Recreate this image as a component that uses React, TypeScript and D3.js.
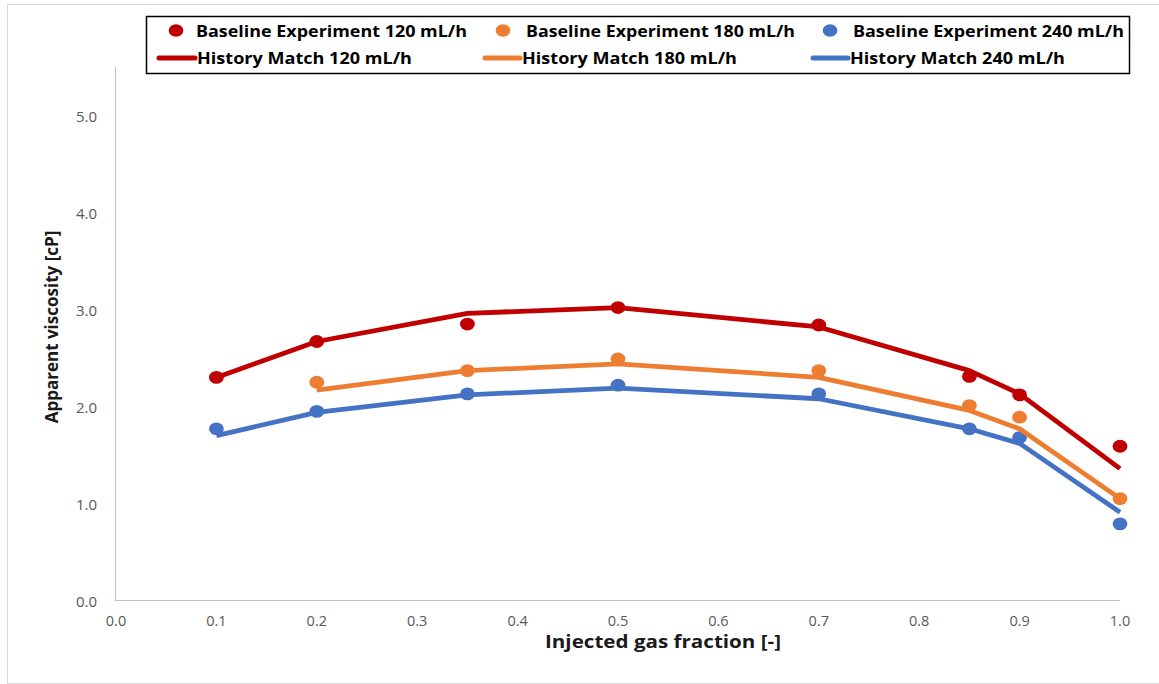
import React from "react";
import * as d3 from "d3";

// Injected gas fraction at each measurement
const gasFraction = [0.1, 0.2, 0.35, 0.5, 0.7, 0.85, 0.9, 1.0];
const gasFraction180 = [0.2, 0.35, 0.5, 0.7, 0.85, 0.9, 1.0];

// Baseline experiment apparent viscosity [cP]
const exp120 = [2.3, 2.67, 2.85, 3.02, 2.84, 2.31, 2.12, 1.59];
const exp180 = [2.25, 2.37, 2.49, 2.37, 2.01, 1.89, 1.05];
const exp240 = [1.77, 1.95, 2.13, 2.22, 2.13, 1.77, 1.68, 0.79];

// History match apparent viscosity [cP]
const hm120 = [2.3, 2.67, 2.96, 3.02, 2.82, 2.37, 2.13, 1.36];
const hm180 = [2.17, 2.37, 2.44, 2.3, 1.96, 1.77, 1.05];
const hm240 = [1.7, 1.94, 2.12, 2.19, 2.08, 1.77, 1.62, 0.91];

const xTicks = [0, 0.1, 0.2, 0.3, 0.4, 0.5, 0.6, 0.7, 0.8, 0.9, 1.0];
const yTicks = [0, 1, 2, 3, 4, 5];

const RED = "#C00000";
const ORANGE = "#ED7D31";
const BLUE = "#4472C4";

const W = 1159;
const H = 684;

export default function App() {
  const x = d3.scaleLinear().domain([0, 1]).range([116, 1120]);
  const y = d3.scaleLinear().domain([0, 5.5]).range([600.5, 67]);

  const toPts = (xs: number[], ys: number[]) => xs.map((v, i) => [v, ys[i]] as [number, number]);

  const line = d3
    .line<[number, number]>()
    .x((d) => x(d[0]))
    .y((d) => y(d[1]));

  const expSeries = [
    { pts: toPts(gasFraction, exp120), color: RED },
    { pts: toPts(gasFraction180, exp180), color: ORANGE },
    { pts: toPts(gasFraction, exp240), color: BLUE },
  ];
  const hmSeries = [
    { pts: toPts(gasFraction, hm120), color: RED },
    { pts: toPts(gasFraction180, hm180), color: ORANGE },
    { pts: toPts(gasFraction, hm240), color: BLUE },
  ];

  const font = "'Open Sans', 'Liberation Sans', sans-serif";
  const legendRow1 = [
    { cx: 176, tx: 196, len: 271, label: "Baseline Experiment 120 mL/h", color: RED },
    { cx: 503, tx: 526, len: 269, label: "Baseline Experiment 180 mL/h", color: ORANGE },
    { cx: 830, tx: 853, len: 271, label: "Baseline Experiment 240 mL/h", color: BLUE },
  ];
  const legendRow2 = [
    { x1: 159, x2: 195, tx: 197, len: 215, label: "History Match 120 mL/h", color: RED },
    { x1: 485, x2: 520, tx: 522, len: 215, label: "History Match 180 mL/h", color: ORANGE },
    { x1: 813, x2: 848, tx: 850, len: 215, label: "History Match 240 mL/h", color: BLUE },
  ];

  return (
    <svg
      width={W}
      height={H}
      style={{ position: "absolute", left: 0, top: 0, background: "#fff" }}
      fontFamily={font}
    >
      {/* chart frame */}
      <rect x={7.5} y={4.5} width={1160} height={679} fill="#fff" stroke="#d9d9d9" strokeWidth={1} />

      {/* axes */}
      <line x1={x(0) - 0.5} x2={x(0) - 0.5} y1={y(5.5)} y2={y(0)} stroke="#bfbfbf" strokeWidth={1} />
      <line x1={x(0) - 1} x2={x(1)} y1={y(0)} y2={y(0)} stroke="#bfbfbf" strokeWidth={1} />

      {yTicks.map((t) => (
        <text
          key={"y" + t}
          x={97}
          y={y(t)}
          textAnchor="end"
          dominantBaseline="central"
          fontSize={15}
          fill="#595959"
        >
          {t.toFixed(1)}
        </text>
      ))}
      {xTicks.map((t) => (
        <text
          key={"x" + t}
          x={x(t)}
          y={620}
          textAnchor="middle"
          dominantBaseline="central"
          fontSize={14.5}
          fill="#595959"
        >
          {t.toFixed(1)}
        </text>
      ))}

      {/* axis titles */}
      <text
        x={663}
        y={648}
        textAnchor="middle"
        fontSize={17}
        fontWeight="bold"
        fill="#1a1a1a"
        textLength={236}
        lengthAdjust="spacingAndGlyphs"
      >
        Injected gas fraction [-]
      </text>
      <text
        transform={`translate(58, 327) rotate(-90)`}
        textAnchor="middle"
        fontSize={17}
        fontWeight="bold"
        fill="#1a1a1a"
      >
        Apparent viscosity [cP]
      </text>

      {/* baseline experiment markers */}
      {expSeries.map((s, si) =>
        s.pts.map((p, i) => (
          <ellipse key={`m${si}-${i}`} cx={x(p[0])} cy={y(p[1])} rx={7.4} ry={6.4} fill={s.color} />
        ))
      )}

      {/* history match lines */}
      {hmSeries.map((s, si) => (
        <path
          key={`l${si}`}
          d={line(s.pts) ?? ""}
          fill="none"
          stroke={s.color}
          strokeWidth={4.8}
          strokeLinejoin="round"
        />
      ))}

      {/* legend */}
      <rect x={146.5} y={16.5} width={983} height={57} fill="#fff" stroke="#000" strokeWidth={1.5} />
      {legendRow1.map((l) => (
        <g key={l.label}>
          <ellipse cx={l.cx} cy={30.5} rx={7.3} ry={6.2} fill={l.color} />
          <text
            x={l.tx}
            y={31}
            dominantBaseline="central"
            fontSize={15.5}
            fontWeight="bold"
            fill="#000"
            textLength={l.len}
            lengthAdjust="spacingAndGlyphs"
          >
            {l.label}
          </text>
        </g>
      ))}
      {legendRow2.map((l) => (
        <g key={l.label}>
          <line x1={l.x1} x2={l.x2} y1={58} y2={58} stroke={l.color} strokeWidth={5} strokeLinecap="round" />
          <text
            x={l.tx}
            y={58}
            dominantBaseline="central"
            fontSize={15.5}
            fontWeight="bold"
            fill="#000"
            textLength={l.len}
            lengthAdjust="spacingAndGlyphs"
          >
            {l.label}
          </text>
        </g>
      ))}
    </svg>
  );
}
